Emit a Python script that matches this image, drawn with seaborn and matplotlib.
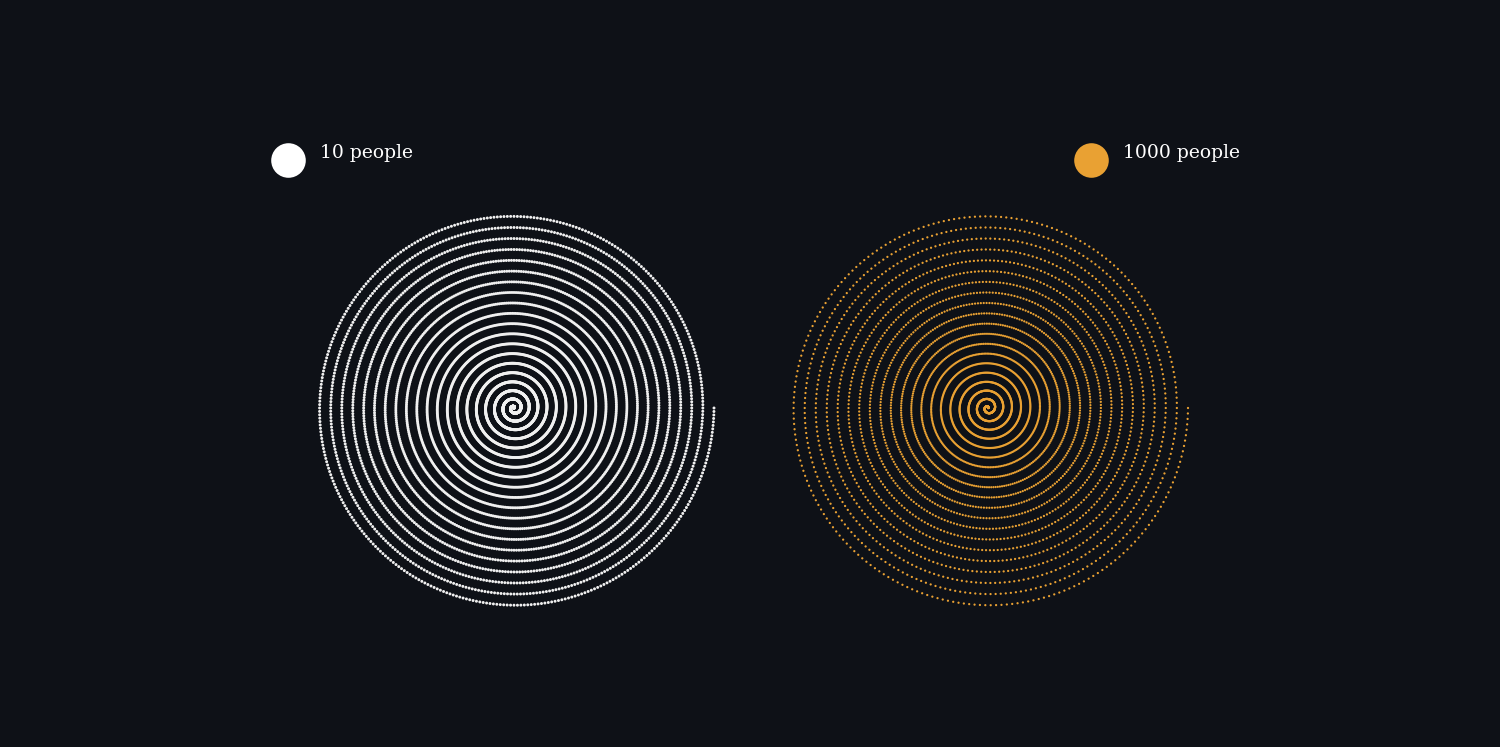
import numpy as np
import pandas as pd
import matplotlib
matplotlib.use("Agg")
import matplotlib.pyplot as plt
import seaborn as sns

# two unit spirals: one dot per group of people
labels = ["10 people", "1000 people"]
colors = ["#f0f0f0", "#e9a133"]
legend_colors = ["#ffffff", "#e9a133"]
dot_sizes = [4.5, 2.6]
dots_per_turn = [360, 230]
turns = [20, 20]

bg = "#0e1117"
sns.set_theme(style="dark", rc={"axes.facecolor": bg, "figure.facecolor": bg})
plt.rcParams["font.family"] = ["DejaVu Serif", "DejaVu Sans"]

# layout (pixels)
centers = [(514, 408), (988, 408)]
R = 200
legend_pos = [(288, 160), (1091, 160)]

frames = []
for lab, n_turn, tr, (cx, cy) in zip(labels, dots_per_turn, turns, centers):
    n = n_turn * tr
    t = np.arange(1, n + 1) / n
    theta = 2 * np.pi * tr * t
    r = R * t ** 1.12
    frames.append(pd.DataFrame({
        "x": cx + r * np.cos(theta),
        "y": cy - r * np.sin(theta),
        "group": lab,
    }))
df = pd.concat(frames, ignore_index=True)

fig = plt.figure(figsize=(15, 7.47), dpi=100)
ax = fig.add_axes([0, 0, 1, 1])
sns.scatterplot(data=df, x="x", y="y", hue="group", palette=dict(zip(labels, colors)),
                size="group", sizes=dict(zip(labels, dot_sizes)),
                linewidth=0, legend=False, ax=ax)

for lab, col, (lx, ly) in zip(labels, legend_colors, legend_pos):
    ax.scatter([lx], [ly], s=620, color=col, linewidth=0)
    ax.text(lx + 32, ly - 2, lab, color="white", fontsize=13.5, va="baseline", ha="left")

ax.set_xlim(0, 1500)
ax.set_ylim(747, 0)
ax.set_aspect("equal")
ax.axis("off")
fig.savefig("out.png", dpi=100, facecolor=bg)
